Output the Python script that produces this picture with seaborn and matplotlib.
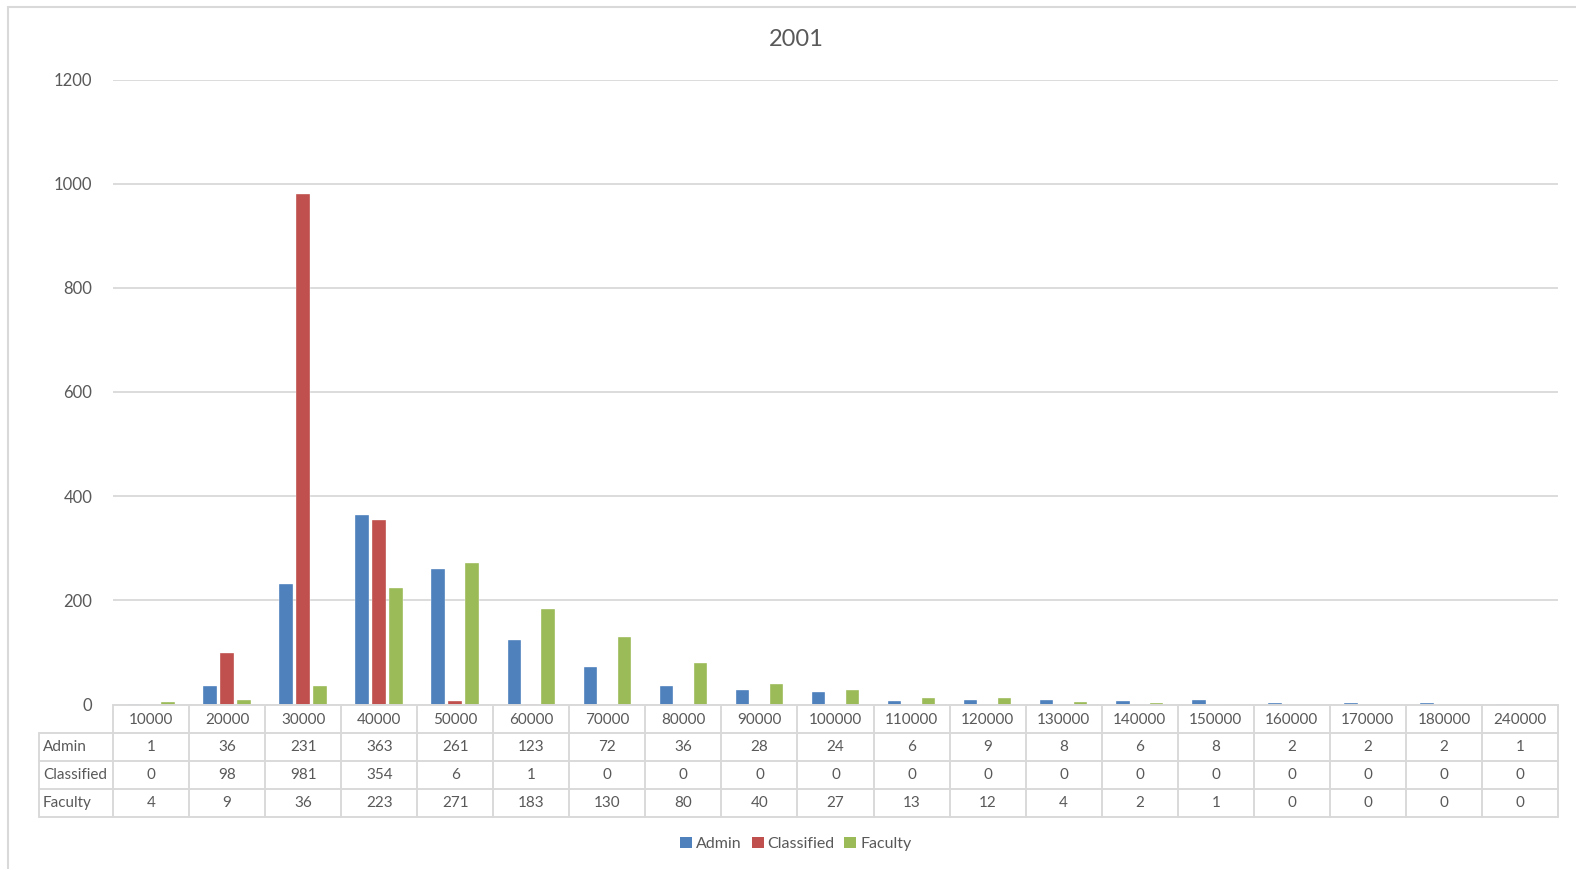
#
#------------------------------------------------------------------------#
# Import required modules
import pandas as pd
import numpy as np
import seaborn as sns
import matplotlib.pyplot as plt
from matplotlib.lines import Line2D
from matplotlib.patches import Patch
#
#------------------------------------------------------------------------#
# Data (salary bands for 2001)
salaryBands = ["10000", "20000", "30000", "40000", "50000", "60000", "70000",
               "80000", "90000", "100000", "110000", "120000", "130000",
               "140000", "150000", "160000", "170000", "180000", "240000"]
admin      = [1, 36, 231, 363, 261, 123, 72, 36, 28, 24, 6, 9, 8, 6, 8, 2, 2, 2, 1]
classified = [0, 98, 981, 354, 6, 1, 0, 0, 0, 0, 0, 0, 0, 0, 0, 0, 0, 0, 0]
faculty    = [4, 9, 36, 223, 271, 183, 130, 80, 40, 27, 13, 12, 4, 2, 1, 0, 0, 0, 0]
groups = ["Admin", "Classified", "Faculty"]
yTicks = [0, 200, 400, 600, 800, 1000, 1200]
title = "2001"
#
# long format for seaborn
df = pd.DataFrame({"band": salaryBands * 3,
                   "group": np.repeat(groups, len(salaryBands)),
                   "count": admin + classified + faculty})
#
#------------------------------------------------------------------------#
# Style
sns.set_style("white")
plt.rcParams["font.family"] = ["Lato", "DejaVu Sans"]
textColor = "#595959"
lineColor = "#d9d9d9"
palette = {"Admin": "#4F81BD", "Classified": "#C0504D", "Faculty": "#9BBB59"}
#
W, H = 1576, 869
fig = plt.figure(figsize=(W / 100, H / 100), dpi=100)
#
# plot area in pixel layout
left, right = 113, 1558
yZero, yTop = 704.5, 79.5
ax = fig.add_axes([left / W, 1 - yZero / H, (right - left) / W, (yZero - yTop) / H])
#
sns.barplot(data=df, x="band", y="count", hue="group", order=salaryBands,
            hue_order=groups, palette=palette, saturation=1, width=0.67, gap=0.2,
            edgecolor="white", linewidth=0.25, legend=False, ax=ax)
ax.set_xlim(-0.5, len(salaryBands) - 0.5)
ax.set_ylim(0, 1200)
ax.set_yticks(yTicks)
ax.set_yticklabels([str(t) for t in yTicks], fontsize=12, color=textColor)
ax.tick_params(axis="y", length=0, pad=15)
ax.set_xticks([])
ax.set_xlabel("")
ax.set_ylabel("")
ax.yaxis.grid(True, color=lineColor, linewidth=1.3)
ax.set_axisbelow(True)
for s in ax.spines.values():
    s.set_visible(False)
#
#------------------------------------------------------------------------#
# Data table under the chart
tabLeft, tabBottom = 39, 817
colW = (right - left) / len(salaryBands)
labW = (left - tabLeft) / colW
tab = fig.add_axes([tabLeft / W, 1 - tabBottom / H, (right - tabLeft) / W, (tabBottom - yZero) / H])
tab.set_xlim(-0.5 - labW, len(salaryBands) - 0.5)
tab.set_ylim(4, 0)
tab.axis("off")
n = len(salaryBands)
lw = 1.4
# horizontal lines
tab.plot([-0.5, n - 0.5], [0, 0], color=lineColor, lw=lw, clip_on=False)
for r in range(1, 5):
    tab.plot([-0.5 - labW, n - 0.5], [r, r], color=lineColor, lw=lw, clip_on=False)
# vertical lines
for c in range(n + 1):
    tab.plot([c - 0.5, c - 0.5], [0, 4], color=lineColor, lw=lw, clip_on=False)
tab.plot([-0.5 - labW, -0.5 - labW], [1, 4], color=lineColor, lw=lw, clip_on=False)
#
rows = [admin, classified, faculty]
for i, band in enumerate(salaryBands):
    tab.text(i, 0.55, band, ha="center", va="center", fontsize=11, color=textColor)
    for r, vals in enumerate(rows):
        tab.text(i, r + 1.5, str(vals[i]), ha="center", va="center", fontsize=11, color=textColor)
for r, g in enumerate(groups):
    tab.text(-0.5 - labW + 0.05, r + 1.5, g, ha="left", va="center", fontsize=11, color=textColor)
#
#------------------------------------------------------------------------#
# Title, legend, outer border
fig.text(796 / W, 1 - 40 / H, title, ha="center", va="center", fontsize=17, color=textColor)
handles = [Patch(facecolor=palette[g], edgecolor="none") for g in groups]
fig.legend(handles, groups, loc="center", bbox_to_anchor=(796 / W, 1 - 844 / H),
           ncol=3, frameon=False, fontsize=11.5, handlelength=0.75, handleheight=0.75,
           handletextpad=0.25, columnspacing=0.6, labelcolor=textColor)
fig.add_artist(Line2D([8 / W, 8 / W], [0, 1 - 7 / H], transform=fig.transFigure, color=lineColor, lw=1.5))
fig.add_artist(Line2D([8 / W, 1], [1 - 7 / H, 1 - 7 / H], transform=fig.transFigure, color=lineColor, lw=1.5))
#
fig.savefig("out.png", dpi=100)
